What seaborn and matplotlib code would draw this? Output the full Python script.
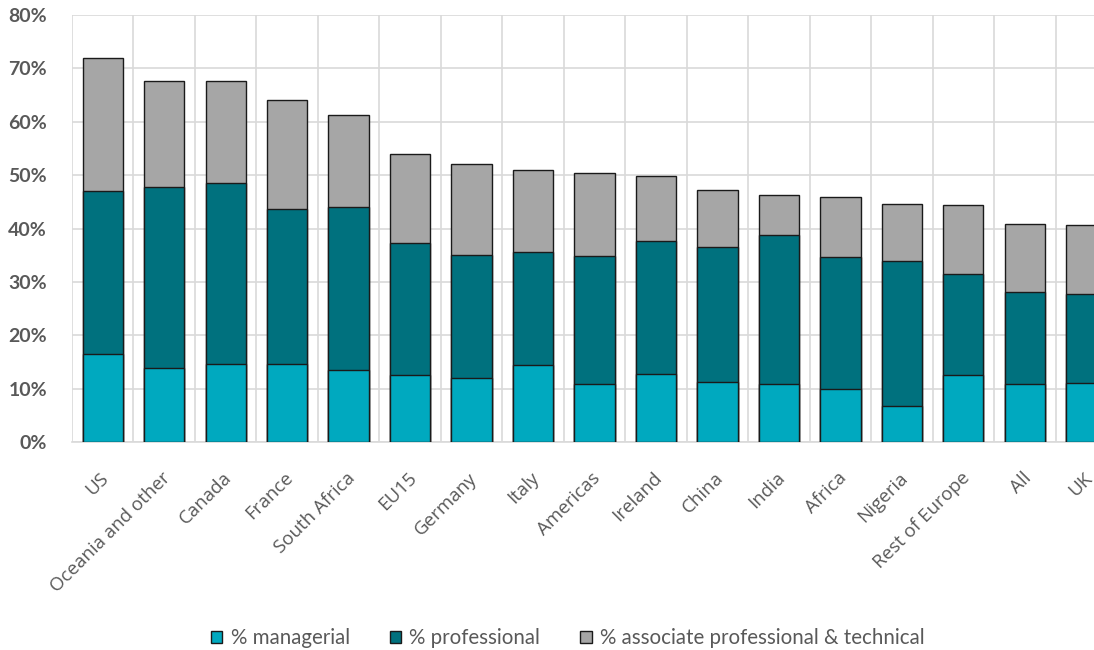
import numpy as np
import pandas as pd
import seaborn as sns
import matplotlib.pyplot as plt
import matplotlib.transforms as mtransforms
from matplotlib.patches import Patch
from matplotlib.ticker import PercentFormatter, MultipleLocator, FixedLocator

# data (shares of employment, %)
regions = ['US', 'Oceania and other', 'Canada', 'France', 'South Africa', 'EU15',
           'Germany', 'Italy', 'Americas', 'Ireland', 'China', 'India', 'Africa',
           'Nigeria', 'Rest of Europe', 'All', 'UK']
managerial = [16.5, 13.8, 14.6, 14.6, 13.4, 12.5, 11.9, 14.4, 10.9, 12.7, 11.3,
              10.9, 10.0, 6.7, 12.5, 10.9, 11.0]
professional = [30.6, 33.9, 34.0, 29.1, 30.6, 24.8, 23.1, 21.2, 23.9, 25.0, 25.2,
                27.9, 24.6, 27.2, 18.9, 17.2, 16.7]
associate = [24.8, 20.0, 19.0, 20.3, 17.3, 16.7, 17.1, 15.4, 15.6, 12.1, 10.8,
             7.4, 11.3, 10.7, 13.0, 12.7, 12.9]

series = ['% managerial', '% professional', '% associate professional & technical']
colors = ['#00A9BF', '#00717E', '#A6A6A6']

df = pd.DataFrame({'region': regions, 'man': managerial,
                   'prof': professional, 'assoc': associate})
df['lvl1'] = df['man']
df['lvl2'] = df['man'] + df['prof']
df['lvl3'] = df['lvl2'] + df['assoc']

sns.set_theme(style='white')
plt.rcParams['font.family'] = ['Lato', 'DejaVu Sans']

fig = plt.figure(figsize=(10.94, 6.5), dpi=100)
ax = fig.add_axes([72 / 1094, 208 / 650, 1045 / 1094, 427 / 650])

# stacked bars: draw cumulative totals from the top down
for col, c in zip(['lvl3', 'lvl2', 'lvl1'], colors[::-1]):
    sns.barplot(data=df, x='region', y=col, color=c, width=0.655,
                edgecolor='#1a1a1a', linewidth=1.0, saturation=1, ax=ax, zorder=3)

ax.set_ylim(0, 80)
ax.set_xlim(-0.5, len(regions) - 0.5)
ax.yaxis.set_major_locator(MultipleLocator(10))
ax.yaxis.set_major_formatter(PercentFormatter(decimals=0))
ax.xaxis.set_minor_locator(FixedLocator(np.arange(-0.5, len(regions), 1)))
ax.grid(axis='y', which='major', color='#D9D9D9', linewidth=1.2, zorder=0)
ax.grid(axis='x', which='minor', color='#D9D9D9', linewidth=1.2, zorder=0)
ax.set_axisbelow(True)
for s in ['top', 'right', 'left']:
    ax.spines[s].set_visible(False)
ax.spines['bottom'].set_color('#D9D9D9')
ax.spines['bottom'].set_linewidth(1.2)
ax.set_xlabel('')
ax.set_ylabel('')
ax.tick_params(axis='both', which='both', length=0)
ax.tick_params(axis='y', pad=18)

for t in ax.get_yticklabels():
    t.set_fontsize(14)
    t.set_fontweight('bold')
    t.set_color('#595959')

offset = mtransforms.ScaledTranslation(-3 / 100, -22 / 100, fig.dpi_scale_trans)
for t in ax.get_xticklabels():
    t.set_rotation(45)
    t.set_ha('right')
    t.set_va('top')
    t.set_rotation_mode('anchor')
    t.set_fontsize(13.5)
    t.set_family(['Open Sans', 'DejaVu Sans'])
    t.set_color('#595959')
    t.set_transform(t.get_transform() + offset)

handles = [Patch(facecolor=c, edgecolor='#1a1a1a', linewidth=1.0) for c in colors]
fig.legend(handles, series, loc='lower center', bbox_to_anchor=(0.519, -0.026),
           ncol=3, frameon=False, fontsize=14.8, handlelength=0.55, handleheight=0.55,
           handletextpad=0.4, columnspacing=1.95, labelcolor='#595959')

fig.savefig('out.png', dpi=100)
